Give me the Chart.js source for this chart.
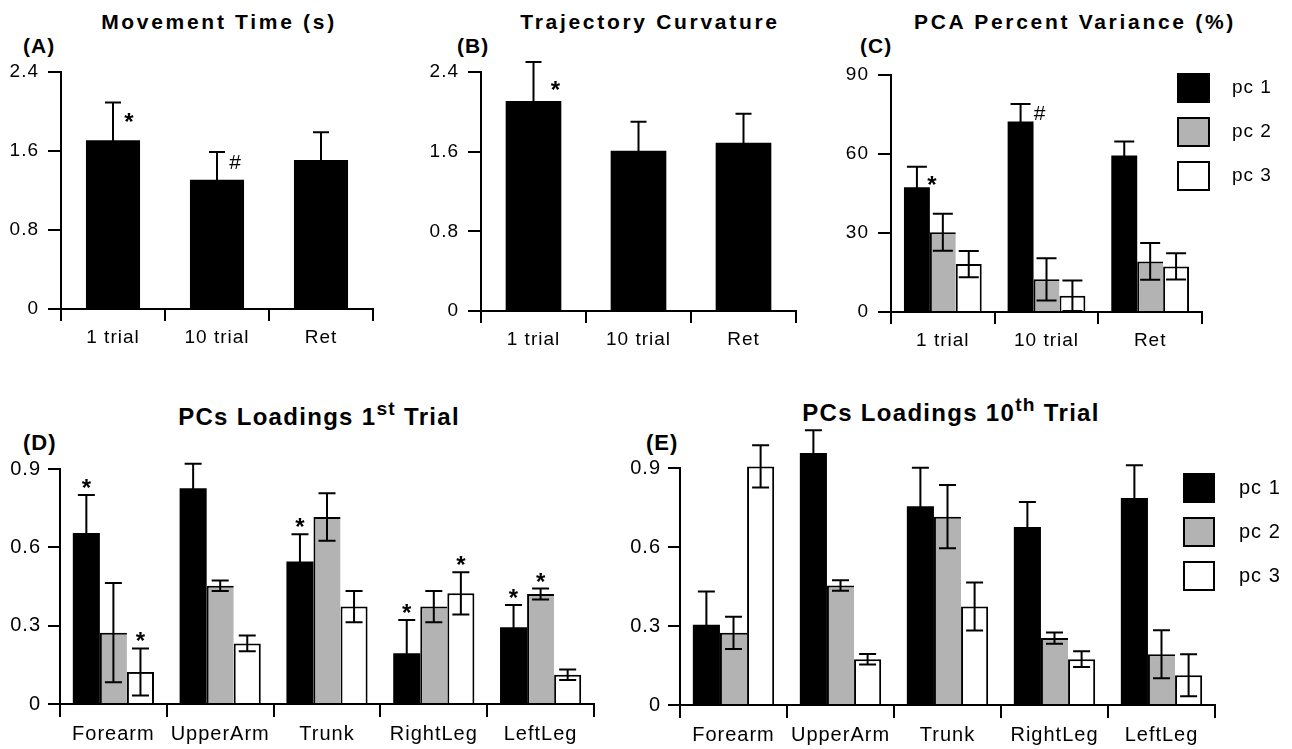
<!DOCTYPE html>
<html><head><meta charset="utf-8">
<script src="https://cdn.jsdelivr.net/npm/chart.js@4.4.1/dist/chart.umd.min.js"></script>
<style>
html,body{margin:0;padding:0;background:#fff;}
body{width:1292px;height:749px;position:relative;overflow:hidden;font-family:"Liberation Sans",Arial,sans-serif;color:#000;}
.t{position:absolute;font-weight:bold;white-space:nowrap;line-height:1;}
.ttl{transform:translateX(-50%);}
.sup{font-size:0.8em;position:relative;top:-0.5em;}
canvas{position:absolute;}
</style></head><body>
<div class="t ttl" style="left:219px;top:11px;font-size:21px;letter-spacing:2.7px">Movement Time (s)</div>
<div class="t ttl" style="left:650px;top:11px;font-size:21px;letter-spacing:2.7px">Trajectory Curvature</div>
<div class="t ttl" style="left:1075px;top:11px;font-size:21px;letter-spacing:2.7px">PCA Percent Variance (%)</div>
<div class="t" style="left:23px;top:35px;font-size:21px;letter-spacing:1px">(A)</div>
<div class="t" style="left:457px;top:35px;font-size:21px;letter-spacing:1px">(B)</div>
<div class="t" style="left:860px;top:35px;font-size:21px;letter-spacing:1px">(C)</div>
<div class="t ttl" style="left:319px;top:405px;font-size:24px;letter-spacing:1.3px">PCs Loadings 1<span class="sup">st</span> Trial</div>
<div class="t ttl" style="left:951px;top:401px;font-size:24px;letter-spacing:1.3px">PCs Loadings 10<span class="sup">th</span> Trial</div>
<div class="t" style="left:23px;top:432px;font-size:22px;letter-spacing:1px">(D)</div>
<div class="t" style="left:646px;top:432px;font-size:22px;letter-spacing:1px">(E)</div>
<canvas id="cA"></canvas>
<canvas id="cB"></canvas>
<canvas id="cC"></canvas>
<canvas id="cD"></canvas>
<canvas id="cE"></canvas>
<script>
// ---------- data ----------
const trialLabels = ['1 trial', '10 trial', 'Ret'];
const segmentLabels = ['Forearm', 'UpperArm', 'Trunk', 'RightLeg', 'LeftLeg'];
const pcLabels = ['pc 1', 'pc 2', 'pc 3'];

const mtValues = [1.71, 1.31, 1.51];
const mtErr = [0.38, 0.28, 0.28];
const mtMarks = ['*', '#', ''];

const tcValues = [2.11, 1.61, 1.69];
const tcErr = [0.39, 0.29, 0.29];
const tcMarks = ['*', '', ''];

const pcaPc1 = [47.4, 72.3, 59.4];
const pcaPc1Err = [7.8, 6.7, 5.3];
const pcaPc1Marks = ['*', '#', ''];
const pcaPc2 = [30.3, 12.4, 19.2];
const pcaPc2Err = [7.0, 8.0, 7.0];
const pcaPc3 = [18.2, 6.2, 17.3];
const pcaPc3Err = [5.0, 5.8, 5.0];

const d1Pc1 = [0.655, 0.826, 0.546, 0.194, 0.294];
const d1Pc1Err = [0.145, 0.094, 0.104, 0.128, 0.085];
const d1Pc1Marks = ['*', '', '*', '*', '*'];
const d1Pc2 = [0.273, 0.453, 0.716, 0.373, 0.421];
const d1Pc2Err = [0.19, 0.02, 0.091, 0.06, 0.021];
const d1Pc2Marks = ['', '', '', '', '*'];
const d1Pc3 = [0.123, 0.232, 0.373, 0.424, 0.112];
const d1Pc3Err = [0.09, 0.03, 0.06, 0.081, 0.02];
const d1Pc3Marks = ['*', '', '', '*', ''];

const d10Pc1 = [0.305, 0.957, 0.755, 0.676, 0.786];
const d10Pc1Err = [0.126, 0.086, 0.146, 0.095, 0.124];
const d10Pc2 = [0.274, 0.454, 0.715, 0.254, 0.193];
const d10Pc2Err = [0.061, 0.02, 0.12, 0.021, 0.091];
const d10Pc3 = [0.906, 0.174, 0.374, 0.174, 0.113];
const d10Pc3Err = [0.08, 0.02, 0.091, 0.03, 0.08];

// ---------- drawing ----------
const FONT = "'Liberation Sans', Arial, sans-serif";
const BLACK = '#000000', GREY = '#b3b3b3', WHITE = '#ffffff';
const STAR_FONT = 'bold 24px ' + FONT;
const HASH_FONT = '21px ' + FONT;

const spacingPlugin = {
  id: 'lspace',
  beforeLayout(c, a, o) { c.ctx.letterSpacing = (o && o.px) || '0px'; },
  beforeDraw(c, a, o) { c.ctx.letterSpacing = (o && o.px) || '0px'; }
};

const errPlugin = {
  id: 'errMarks',
  afterDatasetsDraw(chart, args, o) {
    const ctx = chart.ctx, ys = chart.scales.y;
    ctx.save();
    ctx.strokeStyle = '#000'; ctx.lineWidth = 2; ctx.fillStyle = '#000';
    chart.data.datasets.forEach((ds, i) => {
      const meta = chart.getDatasetMeta(i);
      meta.data.forEach((bar, j) => {
        const p = bar.getProps(['x', 'y', 'width'], true);
        const v = ds.data[j], e = ds.err[j];
        const yt = ys.getPixelForValue(v + e);
        const yb = ys.getPixelForValue(Math.max(0, v - e));
        const hw = o.cap / 2;
        ctx.beginPath();
        ctx.moveTo(p.x, yt); ctx.lineTo(p.x, yb);
        ctx.moveTo(p.x - hw, yt); ctx.lineTo(p.x + hw, yt);
        ctx.moveTo(p.x - hw, yb); ctx.lineTo(p.x + hw, yb);
        ctx.stroke();
        const m = ds.marks && ds.marks[j];
        if (m) {
          const star = m === '*';
          ctx.letterSpacing = '0px';
          ctx.font = star ? STAR_FONT : HASH_FONT;
          ctx.textAlign = 'center'; ctx.textBaseline = 'alphabetic';
          const dy = star ? o.starDy : o.markDy;
          const dx = star ? o.starDx : o.markDx;
          if (o.markMode === 'side') ctx.fillText(m, p.x + p.width / 2 + dx, p.y + dy);
          else ctx.fillText(m, p.x, yt + dy);
        }
      });
    });
    ctx.restore();
  }
};

const legendPlugin = {
  id: 'boxLegend',
  afterDraw(chart, args, o) {
    if (!o || !o.show) return;
    const ctx = chart.ctx, ca = chart.chartArea;
    ctx.save();
    chart.data.datasets.forEach((ds, i) => {
      const x = ca.right + o.dx, y = ca.top + o.dy + i * o.pitch;
      ctx.fillStyle = ds.backgroundColor; ctx.fillRect(x, y, o.w, o.h);
      ctx.strokeStyle = '#000'; ctx.lineWidth = 2; ctx.strokeRect(x + 1, y + 1, o.w - 2, o.h - 2);
      ctx.fillStyle = '#000'; ctx.font = o.font; ctx.textAlign = 'left'; ctx.textBaseline = 'middle';
      ctx.fillText(ds.label, x + o.w + o.gap, y + o.h / 2);
    });
    ctx.restore();
  }
};

function makePanel(id, cfg) {
  const [L, T, R, B] = cfg.area;
  const left = L - cfg.yW, top = T - cfg.padTop;
  const width = R + cfg.padRight - left, height = B + cfg.xH - top;
  const cv = document.getElementById(id);
  Object.assign(cv.style, { left: left + 'px', top: top + 'px', width: width + 'px', height: height + 'px' });
  cv.width = width; cv.height = height;
  return new Chart(cv, {
    type: 'bar',
    data: { labels: cfg.labels, datasets: cfg.datasets },
    options: {
      responsive: false, maintainAspectRatio: false, animation: false, devicePixelRatio: 1,
      layout: { padding: { top: cfg.padTop, right: cfg.padRight, left: 0, bottom: 0 } },
      datasets: { bar: { categoryPercentage: cfg.catPct, barPercentage: cfg.barPct, clip: false } },
      plugins: {
        legend: { display: false }, tooltip: { enabled: false }, title: { display: false },
        errMarks: cfg.marks, boxLegend: cfg.legend || { show: false }, lspace: { px: '1px' }
      },
      scales: {
        x: {
          grid: { display: true, drawOnChartArea: false, offset: true, tickLength: cfg.xTick, lineWidth: 2, tickWidth: 2, color: '#000', tickColor: '#000' },
          border: { display: true, color: '#000', width: 2 },
          ticks: { color: '#000', font: { family: FONT, size: cfg.fontSize }, padding: cfg.xPad, maxRotation: 0, minRotation: 0, autoSkip: false },
          afterFit(s) { s.height = cfg.xH; }
        },
        y: {
          min: 0, max: cfg.yMax,
          ticks: { stepSize: cfg.yStep, color: '#000', font: { family: FONT, size: cfg.fontSize }, padding: cfg.yPad, callback: cfg.fmt },
          grid: { display: true, drawOnChartArea: false, tickLength: cfg.yTick, lineWidth: 2, tickWidth: 2, color: '#000', tickColor: '#000' },
          border: { display: true, color: '#000', width: 2 },
          afterFit(s) { s.width = cfg.yW; }
        }
      }
    },
    plugins: [spacingPlugin, errPlugin, legendPlugin]
  });
}

const fmt1 = v => (v === 0 ? '0' : Number(v).toFixed(1));
const fmt0 = v => String(Math.round(v));
const pc2Border = { top: 2, left: 2, right: 0, bottom: 0 };
const pc3Border = { top: 2, left: 2, right: 2, bottom: 0 };

function pcSets(v1, e1, m1, v2, e2, m2, v3, e3, m3) {
  return [
    { label: pcLabels[0], data: v1, err: e1, marks: m1, backgroundColor: BLACK, borderWidth: 0 },
    { label: pcLabels[1], data: v2, err: e2, marks: m2, backgroundColor: GREY, borderColor: BLACK, borderWidth: pc2Border },
    { label: pcLabels[2], data: v3, err: e3, marks: m3, backgroundColor: WHITE, borderColor: BLACK, borderWidth: pc3Border }
  ];
}

const topCommon = { yW: 61, padTop: 25, padRight: 15, xH: 50, fontSize: 19, xTick: 12, yTick: 13, yPad: 9, xPad: 5 };

makePanel('cA', Object.assign({}, topCommon, {
  area: [61, 72, 373, 309], labels: trialLabels, yMax: 2.4, yStep: 0.8, fmt: fmt1, catPct: 1, barPct: 0.52,
  datasets: [{ label: 'Movement Time', data: mtValues, err: mtErr, marks: mtMarks, backgroundColor: BLACK, borderWidth: 0 }],
  marks: { cap: 16, markMode: 'side', markDx: -9, markDy: -11, starDx: -11, starDy: -10 }
}));

makePanel('cB', Object.assign({}, topCommon, {
  area: [481, 72, 796, 311], labels: trialLabels, yMax: 2.4, yStep: 0.8, fmt: fmt1, catPct: 1, barPct: 0.53,
  datasets: [{ label: 'Trajectory Curvature', data: tcValues, err: tcErr, marks: tcMarks, backgroundColor: BLACK, borderWidth: 0 }],
  marks: { cap: 16, markMode: 'side', markDx: -8, markDy: -7, starDx: -6, starDy: -3 }
}));

makePanel('cC', Object.assign({}, topCommon, {
  area: [891, 75, 1202, 312], padRight: 90, labels: trialLabels, yMax: 90, yStep: 30, fmt: fmt0, catPct: 0.75, barPct: 1,
  datasets: pcSets(pcaPc1, pcaPc1Err, pcaPc1Marks, pcaPc2, pcaPc2Err, null, pcaPc3, pcaPc3Err, null),
  marks: { cap: 20, markMode: 'side', markDx: 6, markDy: -2, starDx: 2, starDy: 6 },
  legend: { show: true, dx: -25, dy: -2, pitch: 44, w: 33, h: 30, gap: 22, font: '19px ' + FONT }
}));

const botCommon = { yW: 60, padTop: 30, padRight: 20, xH: 45, fontSize: 20, xTick: 13, yTick: 12, yPad: 7, xPad: 5, yMax: 0.9, yStep: 0.3, fmt: fmt1, catPct: 0.76, barPct: 1 };

makePanel('cD', Object.assign({}, botCommon, {
  area: [60, 469, 594, 704], labels: segmentLabels,
  datasets: pcSets(d1Pc1, d1Pc1Err, d1Pc1Marks, d1Pc2, d1Pc2Err, d1Pc2Marks, d1Pc3, d1Pc3Err, d1Pc3Marks),
  marks: { cap: 17, markMode: 'top', markDy: -3, starDx: 0, starDy: 1 }
}));

makePanel('cE', Object.assign({}, botCommon, {
  area: [680, 468, 1215, 705], yW: 61, padTop: 50, padRight: 77, labels: segmentLabels,
  datasets: pcSets(d10Pc1, d10Pc1Err, null, d10Pc2, d10Pc2Err, null, d10Pc3, d10Pc3Err, null),
  marks: { cap: 17, markMode: 'top', markDy: -3, starDx: 0, starDy: 1 },
  legend: { show: true, dx: -32, dy: 5, pitch: 44, w: 32, h: 30, gap: 24, font: '20px ' + FONT }
}));
</script>
</body></html>
